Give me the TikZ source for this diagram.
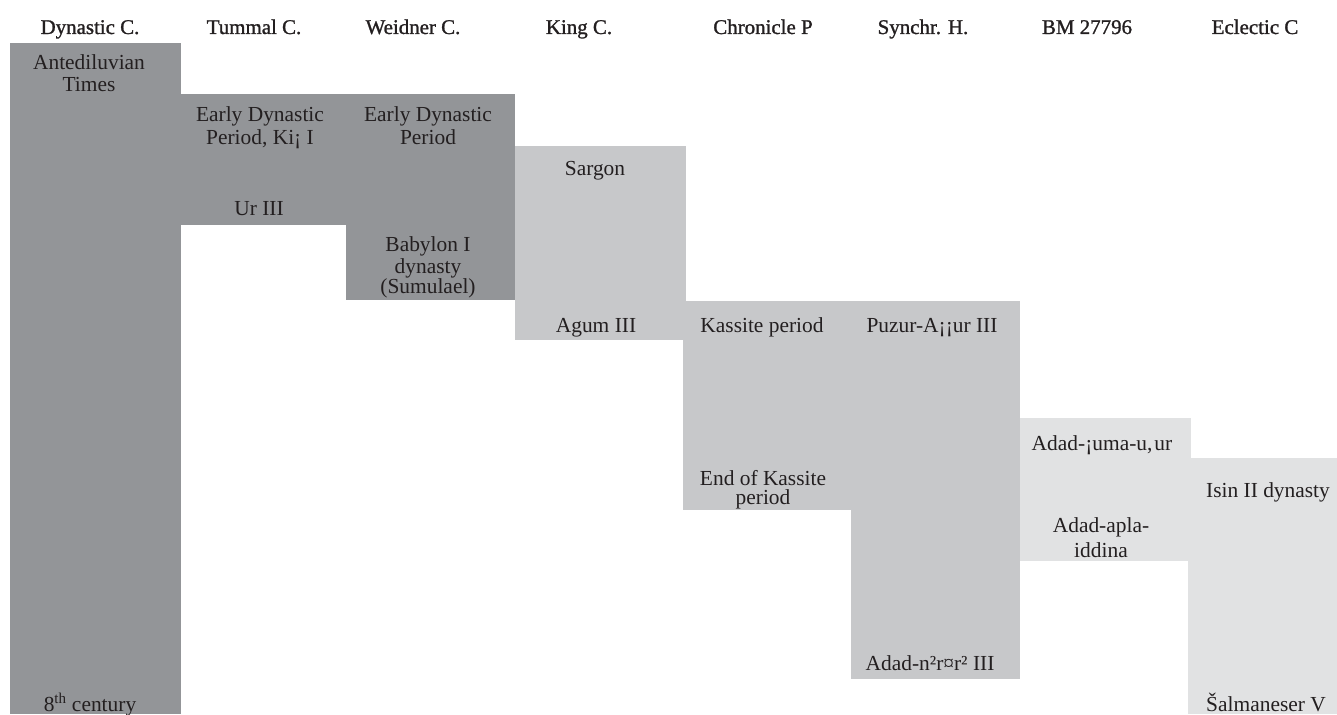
\documentclass[tikz,border=0pt]{standalone}
\usepackage{fontspec}
\setmainfont{Liberation Serif}
\newfontfamily\headfont[FakeBold=1.2]{Liberation Serif}
\definecolor{eraDark}{HTML}{939598}
\definecolor{eraMid}{HTML}{C7C8CA}
\definecolor{eraPale}{HTML}{E1E2E3}
\definecolor{inkGray}{HTML}{231F20}

\begin{document}
\begin{tikzpicture}[
  x=1bp,y=-1bp,
  head/.style={
    anchor=base,
    inner sep=0pt,
    text=inkGray,
    font=\headfont\fontsize{21}{23}\selectfont
  },
  era/.style={
    anchor=base,
    inner sep=0pt,
    align=center,
    text=inkGray,
    font=\fontsize{21.5}{23}\selectfont
  },
  dark/.style={fill=eraDark},
  mid/.style={fill=eraMid},
  pale/.style={fill=eraPale}
]
\useasboundingbox (0,0) rectangle (1337,714);
% period bars, one per chronicle
\fill[dark] (10,43) rectangle (181,714);
\fill[dark] (181,94) rectangle (346,225);
\fill[dark] (346,94) rectangle (515,300);
\fill[mid] (515,146) rectangle (686,340);
\fill[mid] (683,301) rectangle (851,510);
\fill[mid] (851,301) rectangle (1020,679);
\fill[pale] (1020,418) rectangle (1191,561);
\fill[pale] (1188,458) rectangle (1337,714);
% chronicle titles
\foreach \x/\name/\title in {90/dynastic/Dynastic C., 254/tummal/Tummal C.,
    413/weidner/Weidner C., 579/king/King C., 763/chronicle/Chronicle P,
    923/synchr/Synchr. H., 1087/bm/BM 27796, 1255/eclectic/Eclectic C}
  \node[head] (h-\name) at (\x,34) {\title};
% period labels (base = last line)
\node[era] (antediluvian) at (89,92) {Antediluvian\\Times};
\node[era] (eighth) at (90,711) {8\textsuperscript{th} century};
\node[era] (earlydyn1) at (260,144) {Early Dynastic\\Period, Ki¡ I};
\node[era] (ur3) at (259,215) {Ur III};
\node[era] (earlydyn2) at (428,144) {Early Dynastic\\Period};
\node[era] (babylon) at (428,293) {Babylon I\\[-1bp]dynasty\\[-3bp](Sumulael)};
\node[era] (sargon) at (595,175) {Sargon};
\node[era] (agum) at (596,332) {Agum III};
\node[era] (kassite) at (762,332) {Kassite period};
\node[era] (kassiteend) at (763,504) {End of Kassite\\[-4bp]period};
\node[era] (puzur) at (932,332) {Puzur-A¡¡ur III};
\node[era] (adadnirari) at (930,670) {Adad-n²r¤r² III};
\node[era] (adadsuma) at (1102,450) {Adad-¡uma-u,\kern2bp ur};
\node[era] (adadapla) at (1101,557) {Adad-apla-\\[2bp]iddina};
\node[era] (isin) at (1268,497) {Isin II dynasty};
\node[era] (salmaneser) at (1266,711) {Šalmaneser V};
\end{tikzpicture}
\end{document}
